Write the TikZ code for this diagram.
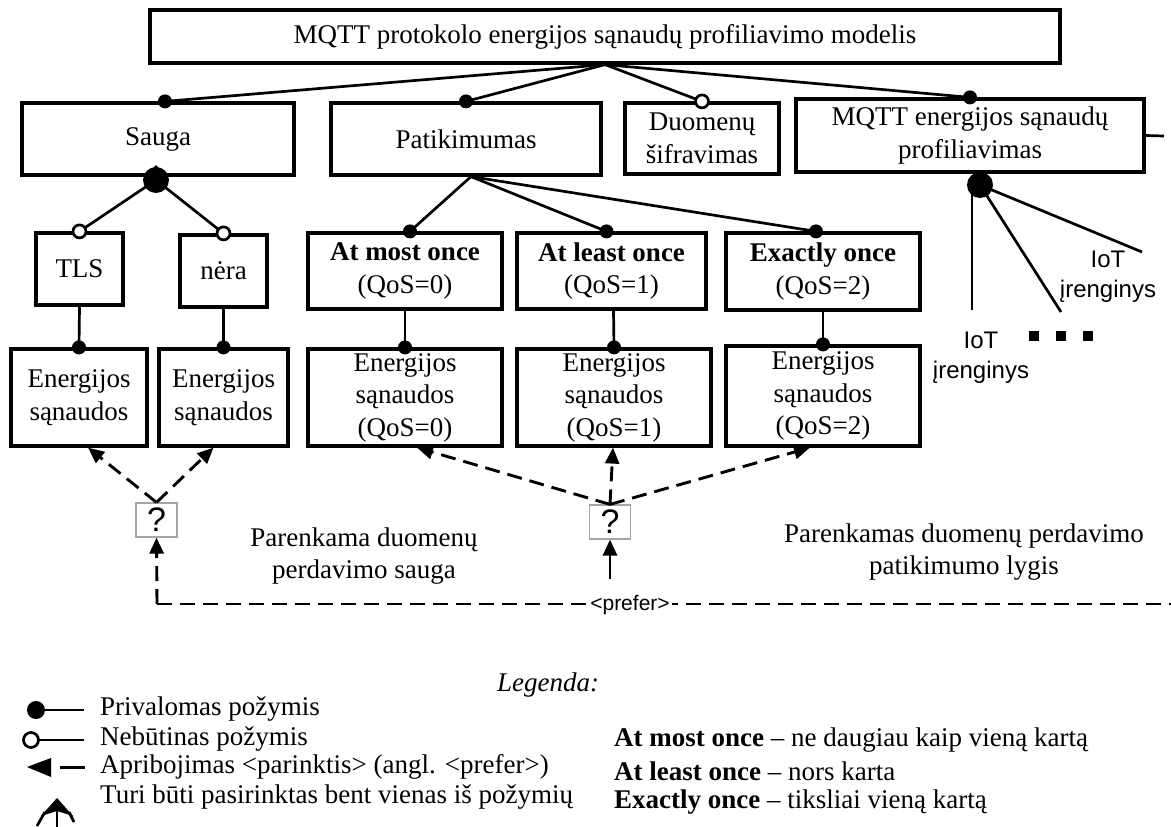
\documentclass[tikz,border=0pt]{standalone}
\usepackage{fontspec}
\setmainfont{Liberation Serif}
\newfontfamily\sansf{Liberation Sans}
\usetikzlibrary{arrows.meta}

\begin{document}
\begin{tikzpicture}[x=1pt,y=-1pt,
  txt/.style={font=\fontsize{27}{32.5}\selectfont, align=center, inner sep=0pt},
  box/.style={txt, draw, line width=3.2pt},
  link/.style={line width=2.7pt},
  pref/.style={line width=2.9pt, dash pattern=on 15pt off 8pt, -{Triangle[length=16pt,width=14pt]}},
  solidpref/.style={line width=2.9pt, -{Triangle[length=16pt,width=14pt]}},
  qbox/.style={draw=black!35, line width=1.2pt, minimum width=41pt, minimum height=34pt, inner sep=0pt, font=\sansf\fontsize{34}{34}\selectfont},
  iot/.style={font=\sansf\fontsize{24}{30}\selectfont, align=center, inner sep=0pt},
  legtxt/.style={font=\fontsize{27}{30}\selectfont, anchor=west, inner sep=0pt}
]
\useasboundingbox (0,0) rectangle (1171,827);

% ---------- feature boxes ----------
\node[box, minimum width=910pt, minimum height=53pt] (title) at (605,36.5) {MQTT protokolo energijos sąnaudų profiliavimo modelis};
\node[box, minimum width=272pt, minimum height=72pt] (sauga) at (158,139) {Sauga};
\node[box, minimum width=270pt, minimum height=72pt] (patik) at (466,139) {Patikimumas};
\node[box, minimum width=154pt, minimum height=71pt] (duom) at (702,138.5) {Duomenų\\šifravimas};
\node[box, minimum width=348pt, minimum height=73pt] (mqtten) at (970,135.5) {MQTT energijos sąnaudų\\profiliavimas};

\node[box, minimum width=87pt, minimum height=72pt] (tls) at (79.5,269) {TLS};
\node[box, minimum width=87pt, minimum height=72pt] (nera) at (223.5,271) {nėra};
\node[box, minimum width=194pt, minimum height=76pt] (amo) at (405,271) {\textbf{At most once}\\(QoS=0)};
\node[box, minimum width=189pt, minimum height=76pt] (alo) at (611.5,271) {\textbf{At least once}\\(QoS=1)};
\node[box, minimum width=194pt, minimum height=77pt] (exo) at (823,271.5) {\textbf{Exactly once}\\(QoS=2)};

\node[box, minimum width=136pt, minimum height=97pt] (e1) at (79,397.5) {Energijos\\sąnaudos};
\node[box, minimum width=129pt, minimum height=97pt] (e2) at (223.5,397.5) {Energijos\\sąnaudos};
\node[box, minimum width=194pt, minimum height=97pt] (e3) at (405,397.5) {Energijos\\sąnaudos\\(QoS=0)};
\node[box, minimum width=194pt, minimum height=97pt] (e4) at (614,397.5) {Energijos\\sąnaudos\\(QoS=1)};
\node[box, minimum width=194pt, minimum height=100pt] (e5) at (823,396) {Energijos\\sąnaudos\\(QoS=2)};

% ---------- links from the root ----------
\draw[link] (title.south) -- ([xshift=7pt]sauga.north);
\draw[link] (title.south) -- (patik.north);
\draw[link] (title.south) -- (duom.north);
\draw[link] (title.south) -- (mqtten.north);
\fill ([xshift=7pt]sauga.north) circle (7);
\fill (patik.north) circle (7);
\draw[link, fill=white] (duom.north) circle (6.5);
\fill (mqtten.north) circle (7);

% right stub of the profiling box
\coordinate (stub) at (1164,136);
\draw[link] (mqtten.east) -- (stub);

% ---------- Sauga: or-group ----------
\coordinate (sor) at (156,180);
\draw[link] (sor) -- (tls.north);
\draw[link] (sor) -- (nera.north);
\draw[link, fill=white] (tls.north) circle (6.5);
\draw[link, fill=white] (nera.north) circle (6.5);
\fill (sor) circle (13);
\fill (146,176) -- (156,165) -- (166,176) -- cycle;

\draw[link] (tls.south) -- (e1.north);
\draw[link] (nera.south) -- (e2.north);
\fill (e1.north) circle (7);
\fill (e2.north) circle (7);

% ---------- Patikimumas: QoS levels ----------
\draw[link] ([xshift=5pt]patik.south) -- ([xshift=5pt]amo.north);
\draw[link] ([xshift=5pt]patik.south) -- ([xshift=-5pt]alo.north);
\draw[link] ([xshift=5pt]patik.south) -- ([xshift=-7pt]exo.north);
\fill ([xshift=5pt]amo.north) circle (7);
\fill ([xshift=-5pt]alo.north) circle (7);
\fill ([xshift=-7pt]exo.north) circle (7);

\draw[link] (amo.south) -- (e3.north);
\draw[link] ([xshift=2pt]alo.south) -- (e4.north);
\draw[link] (exo.south) -- (e5.north);
\fill (e3.north) circle (7);
\fill (e4.north) circle (7);
\fill (e5.north) circle (7);

% ---------- IoT devices ----------
\coordinate (ior) at (980,185);
\coordinate (d1) at (972,310);
\coordinate (d2) at (1061,312);
\coordinate (d3) at (1142,252);
\draw[link] (972,190) -- (d1);
\draw[link] (ior) -- (d2);
\draw[link] (ior) -- (d3);
\fill (ior) circle (13);
\fill (968,180) -- (978,170) -- (992,179) -- cycle;

\node[iot] (iot1) at (981,358) {IoT\\įrenginys};
\node[iot] (iot2) at (1108,277) {IoT\\įrenginys};
\fill (1029,331) rectangle (1039,341);
\fill (1056,331) rectangle (1066,341);
\fill (1083,331) rectangle (1093,341);

% ---------- prefer constraints ----------
\node[qbox] (q1) at (156.5,520) {?};
\node[qbox] (q2) at (610,522) {?};

\draw[pref] (q1.north) -- ([xshift=9pt]e1.south);
\draw[pref] (q1.north) -- ([xshift=-10pt]e2.south);
\draw[pref] (q2.north) -- ([xshift=12pt]e3.south);
\draw[pref] (q2.north) -- ([xshift=-1pt]e4.south);
\draw[pref] (q2.north) -- ([xshift=-13pt]e5.south);

\coordinate (pl) at (157,604);
\coordinate (pr) at (1171,604);
\coordinate (ps) at (610,579);
\draw[line width=2.9pt, dash pattern=on 15pt off 8pt] (pl) -- (pr);
\draw[pref] (pl) -- (q1.south);
\draw[solidpref] (ps) -- (q2.south);
\node[fill=white, inner sep=2pt, font=\sansf\fontsize{21}{21}\selectfont] (preflbl) at (630,605) {<prefer>};

\node[txt] (t1) at (364,556) {Parenkama duomenų\\perdavimo sauga};
\node[txt] (t2) at (964,552) {Parenkamas duomenų perdavimo\\patikimumo lygis};

% ---------- legend ----------
\node[txt, font=\itshape\fontsize{27}{30}\selectfont] (leg) at (548,685) {Legenda:};

\coordinate (l1a) at (36,710);  \coordinate (l1b) at (84,710);
\draw[link] (l1a) -- (l1b);
\fill (l1a) circle (9);
\node[legtxt] (lt1) at (100,709) {Privalomas požymis};

\coordinate (l2a) at (31,740);  \coordinate (l2b) at (84,740);
\draw[link] (l2a) -- (l2b);
\draw[link, fill=white] (l2a) circle (7.5);
\node[legtxt] (lt2) at (100,739) {Nebūtinas požymis};

\coordinate (l3a) at (60,767);  \coordinate (l3b) at (85,767);
\draw[line width=3pt] (l3a) -- (l3b);
\fill (27,767) -- (51,758) -- (51,777) -- cycle;
\node[legtxt] (lt3) at (100,767) {Apribojimas <parinktis> (angl. <prefer>)};

% or-group symbol
\coordinate (l4) at (57,812);
\draw[link] (57,810) -- (57,827);
\draw[link] (45,812) -- (37,826);
\draw[link] (69,812) -- (74,822);
\fill (57,798) -- (41,816) -- (57,811) -- (73,816) -- cycle;
\node[legtxt] (lt4) at (100,797) {Turi būti pasirinktas bent vienas iš požymių};

\node[legtxt] (r1) at (614,740) {\textbf{At most once} – ne daugiau kaip vieną kartą};
\node[legtxt] (r2) at (614,771) {\textbf{At least once} – nors karta};
\node[legtxt] (r3) at (614,802) {\textbf{Exactly once} – tiksliai vieną kartą};
\end{tikzpicture}
\end{document}
